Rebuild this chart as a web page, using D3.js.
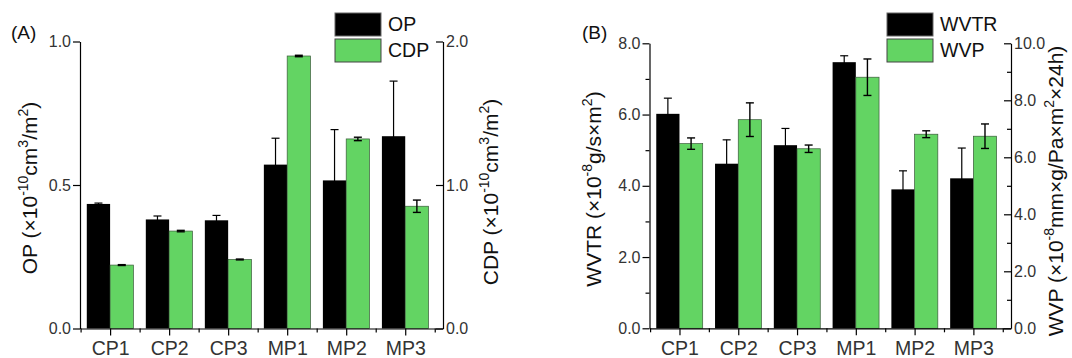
<!DOCTYPE html>
<html>
<head>
<meta charset="utf-8">
<script src="https://cdn.jsdelivr.net/npm/d3@7"></script>
<style>
  html, body { margin: 0; padding: 0; background: #fff; }
  svg { display: block; }
  text { font-family: "Liberation Sans", Arial, sans-serif; fill: #111; }
  .tick text { fill: #333; }
</style>
</head>
<body>
<svg id="chart" width="1072" height="358"></svg>
<script>
// ---------------- DATA ----------------
const categories = ["CP1", "CP2", "CP3", "MP1", "MP2", "MP3"];

// Panel A
const opValues  = [0.434, 0.380, 0.377, 0.571, 0.516, 0.670];
const opErrors  = [0.003, 0.012, 0.017, 0.092, 0.177, 0.192];
const cdpValues = [0.442, 0.679, 0.481, 1.899, 1.321, 0.852];
const cdpErrors = [0.003, 0.005, 0.003, 0.005, 0.012, 0.043];
const opTicks  = [0, 0.5, 1.0];
const cdpTicks = [0, 1.0, 2.0];

// Panel B
const wvtrValues = [6.02, 4.62, 5.14, 7.47, 3.90, 4.21];
const wvtrErrors = [0.44, 0.67, 0.47, 0.18, 0.52, 0.85];
const wvpValues  = [6.48, 7.32, 6.30, 8.81, 6.81, 6.74];
const wvpErrors  = [0.20, 0.59, 0.13, 0.64, 0.12, 0.43];
const wvtrTicks = [0, 2, 4, 6, 8];
const wvtrMinor = [1, 3, 5, 7];
const wvpTicks  = [0, 2, 4, 6, 8, 10];
const wvpMinor  = [1, 3, 5, 7, 9];

// ---------------- STYLE ----------------
const GREEN = "#63d463";
const svg = d3.select("#chart");
const fmt = d3.format(".1f");
const barW = 0.395;            // in category units
const xDomain = [0.49, 6.64];

function drawPanel(cfg) {
  const g = svg.append("g");
  const x = d3.scaleLinear().domain(xDomain).range(cfg.xRange);
  const yL = d3.scaleLinear().domain(cfg.leftDomain).range(cfg.yRange);
  const yR = d3.scaleLinear().domain(cfg.rightDomain).range(cfg.yRange);
  const idx = categories.map((c, i) => i + 1);

  // bars: left series (black)
  g.selectAll(".barL").data(idx).join("rect")
    .attr("x", i => x(i - barW))
    .attr("y", i => yL(cfg.leftValues[i - 1]))
    .attr("width", i => x(i) - x(i - barW))
    .attr("height", i => yL(0) - yL(cfg.leftValues[i - 1]))
    .attr("fill", "#000");
  // bars: right series (green)
  g.selectAll(".barR").data(idx).join("rect")
    .attr("x", i => x(i))
    .attr("y", i => yR(cfg.rightValues[i - 1]))
    .attr("width", i => x(i + barW) - x(i))
    .attr("height", i => yR(0) - yR(cfg.rightValues[i - 1]))
    .attr("fill", GREEN)
    .attr("stroke", "#3a5a3a").attr("stroke-width", 0.7);

  // error bars
  function errBars(vals, errs, yS, cxFn, sw) {
    const eg = g.append("g").attr("stroke", "#000").attr("stroke-width", sw).attr("fill", "none");
    idx.forEach(i => {
      const v = vals[i - 1], e = errs[i - 1], cx = cxFn(i);
      const y1 = yS(v + e), y2 = yS(v - e);
      eg.append("line").attr("x1", cx).attr("x2", cx).attr("y1", y1).attr("y2", y2);
      eg.append("line").attr("x1", cx - 4).attr("x2", cx + 4).attr("y1", y1).attr("y2", y1);
      eg.append("line").attr("x1", cx - 4).attr("x2", cx + 4).attr("y1", y2).attr("y2", y2);
    });
  }
  errBars(cfg.leftValues, cfg.leftErrors, yL, i => x(i - barW / 2), 1.2);
  errBars(cfg.rightValues, cfg.rightErrors, yR, i => x(i + barW / 2), 1.4);

  const y0 = cfg.yRange[0];
  // x axis
  const xAxis = d3.axisBottom(x).tickValues(idx).tickSize(7).tickSizeOuter(0)
    .tickPadding(6).tickFormat(i => categories[i - 1]);
  const gx = g.append("g").attr("transform", `translate(0,${y0})`).call(xAxis);
  gx.selectAll(".tick text").style("font-size", "19.5px").attr("fill", "#111");
  const xMinor = d3.axisBottom(x).tickValues([0.5, 1.5, 2.5, 3.5, 4.5, 5.5, 6.5]).tickSize(4)
    .tickSizeOuter(0).tickFormat("");
  g.append("g").attr("transform", `translate(0,${y0})`).call(xMinor).select(".domain").remove();

  // left axis
  const gl = g.append("g").attr("transform", `translate(${cfg.xRange[0]},0)`)
    .call(d3.axisLeft(yL).tickValues(cfg.leftTicks).tickSize(7).tickSizeOuter(0).tickPadding(2).tickFormat(fmt));
  gl.selectAll(".tick text").style("font-size", "16px");
  if (cfg.leftMinor) {
    g.append("g").attr("transform", `translate(${cfg.xRange[0]},0)`)
      .call(d3.axisLeft(yL).tickValues(cfg.leftMinor).tickSize(4).tickSizeOuter(0).tickFormat(""))
      .select(".domain").remove();
  }
  // right axis (ticks pointing inward)
  const gr = g.append("g").attr("transform", `translate(${cfg.xRange[1]},0)`)
    .call(d3.axisRight(yR).tickValues(cfg.rightTicks).tickSize(-7).tickSizeOuter(0).tickPadding(3).tickFormat(fmt));
  gr.selectAll(".tick text").style("font-size", "16px");
  if (cfg.rightMinor) {
    g.append("g").attr("transform", `translate(${cfg.xRange[1]},0)`)
      .call(d3.axisRight(yR).tickValues(cfg.rightMinor).tickSize(-4).tickSizeOuter(0).tickFormat(""))
      .select(".domain").remove();
  }
  g.selectAll(".domain, .tick line").attr("stroke", "#000").attr("stroke-width", 1.2);

  // axis titles (rotated); parts: strings or {sup}
  function title(px, py, parts, fs) {
    const t = g.append("text")
      .attr("transform", `translate(${px},${py}) rotate(-90)`)
      .attr("text-anchor", "middle").attr("dy", "0.35em")
      .style("font-size", fs + "px");
    let raised = false;
    parts.forEach(p => {
      if (typeof p === "string") {
        const ts = t.append("tspan").text(p);
        if (raised) { ts.attr("dy", "9px"); raised = false; }
      } else {
        t.append("tspan").attr("dy", "-9px").style("font-size", "14px").text(p.sup);
        raised = true;
      }
    });
  }
  title(cfg.leftTitlePos[0], cfg.leftTitlePos[1], cfg.leftTitle, cfg.titleSize);
  title(cfg.rightTitlePos[0], cfg.rightTitlePos[1], cfg.rightTitle, cfg.titleSize);

  // panel tag
  g.append("text").attr("x", cfg.tagPos[0]).attr("y", cfg.tagPos[1])
    .style("font-size", "19px").text(cfg.tag);

  // legend
  const lg = g.append("g");
  const [lx, ly] = cfg.legendPos;
  lg.append("rect").attr("x", lx).attr("y", ly).attr("width", 46).attr("height", 23)
    .attr("fill", "#000").attr("stroke", "#666").attr("stroke-width", 1);
  lg.append("rect").attr("x", lx).attr("y", ly + 26).attr("width", 46).attr("height", 23)
    .attr("fill", GREEN).attr("stroke", "#444").attr("stroke-width", 1);
  lg.append("text").attr("x", lx + 53).attr("y", ly + 18).style("font-size", "19.5px").text(cfg.legend[0]);
  lg.append("text").attr("x", lx + 53).attr("y", ly + 44).style("font-size", "19.5px").text(cfg.legend[1]);
}

drawPanel({
  xRange: [80, 443], yRange: [328.5, 41.5],
  leftDomain: [0, 1], rightDomain: [0, 2],
  leftValues: opValues, leftErrors: opErrors,
  rightValues: cdpValues, rightErrors: cdpErrors,
  leftTicks: opTicks, rightTicks: cdpTicks,
  leftTitle: ["OP (\u00D710", {sup: "-10"}, "cm", {sup: "3"}, "/m", {sup: "2"}, ")"],
  rightTitle: ["CDP (\u00D710", {sup: "-10"}, "cm", {sup: "3"}, "/m", {sup: "2"}, ")"],
  titleSize: 21,
  leftTitlePos: [30, 188], rightTitlePos: [491, 192],
  tag: "(A)", tagPos: [11, 39],
  legend: ["OP", "CDP"], legendPos: [335, 13]
});

drawPanel({
  xRange: [649.5, 1011], yRange: [328.3, 43.3],
  leftDomain: [0, 8], rightDomain: [0, 10],
  leftValues: wvtrValues, leftErrors: wvtrErrors,
  rightValues: wvpValues, rightErrors: wvpErrors,
  leftTicks: wvtrTicks, rightTicks: wvpTicks,
  leftMinor: wvtrMinor, rightMinor: wvpMinor,
  leftTitle: ["WVTR (\u00D710", {sup: "-8"}, "g/s\u00D7m", {sup: "2"}, ")"],
  rightTitle: ["WVP (\u00D710", {sup: "-8"}, "mm\u00D7g/Pa\u00D7m", {sup: "2"}, "\u00D724h)"],
  titleSize: 21,
  leftTitlePos: [594, 189], rightTitlePos: [1056, 191],
  tag: "(B)", tagPos: [582, 39],
  legend: ["WVTR", "WVP"], legendPos: [887, 13]
});
</script>
</body>
</html>
